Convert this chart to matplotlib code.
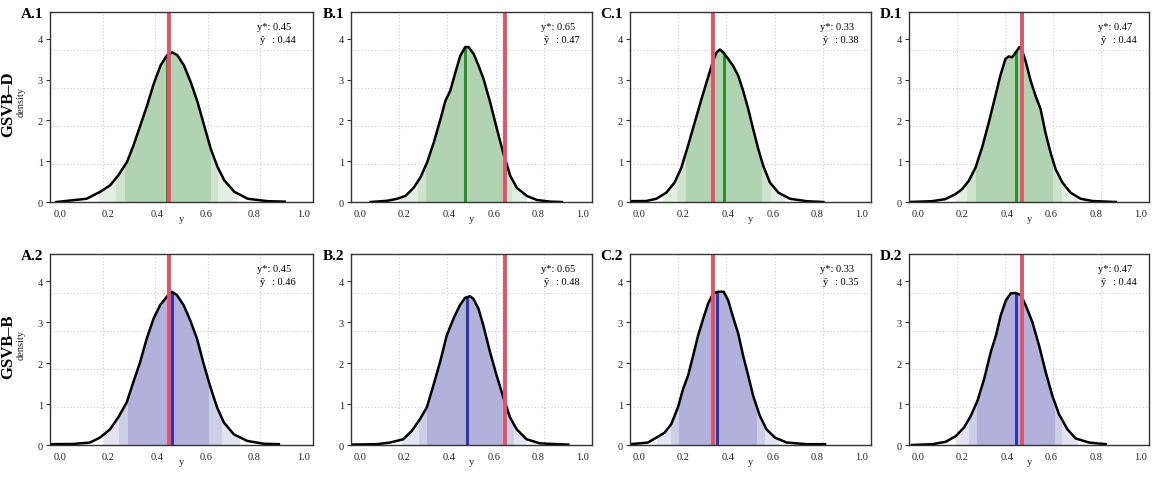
import numpy as np
import matplotlib
matplotlib.use("Agg")
import matplotlib.pyplot as plt
from matplotlib.path import Path

plt.rcParams['font.family'] = ['Liberation Serif', 'DejaVu Serif']

# panel labels and row names
col_names = ["A", "B", "C", "D"]
row_names = ["GSVB\u2013D", "GSVB\u2013B"]

# true value per column, posterior median per row/column
y_star = [0.45, 0.65, 0.33, 0.47]
y_hat = [[0.44, 0.47, 0.38, 0.44],
         [0.46, 0.48, 0.35, 0.44]]

# shaded credible bands (outer lo, mid lo, inner lo, inner hi, mid hi, outer hi)
bands = [
    [[0.16, 0.23, 0.27, 0.62, 0.65, 0.73],
     [0.18, 0.26, 0.295, 0.64, 0.68, 0.75],
     [0.11, 0.17, 0.21, 0.55, 0.59, 0.66],
     [0.17, 0.22, 0.26, 0.61, 0.65, 0.72]],
    [[0.18, 0.245, 0.28, 0.615, 0.665, 0.74],
     [0.19, 0.265, 0.30, 0.64, 0.69, 0.75],
     [0.08, 0.145, 0.18, 0.53, 0.565, 0.63],
     [0.17, 0.23, 0.265, 0.615, 0.65, 0.72]],
]

# density curves
a1_x = [-0.014, 0.11, 0.166, 0.207, 0.24, 0.276, 0.303, 0.331, 0.359, 0.386, 0.414, 0.441, 0.462,
        0.483, 0.51, 0.538, 0.566, 0.593, 0.62, 0.648, 0.676, 0.717, 0.772, 0.855, 0.924]
a1_y = [0.0, 0.08, 0.25, 0.41, 0.65, 0.98, 1.39, 1.88, 2.37, 2.9, 3.35, 3.6, 3.67,
        3.6, 3.35, 2.94, 2.45, 1.88, 1.31, 0.86, 0.53, 0.25, 0.08, 0.02, 0.01]

b1_x = [0.048, 0.122, 0.167, 0.204, 0.241, 0.271, 0.301, 0.331, 0.361, 0.383, 0.405, 0.428, 0.45, 0.472,
        0.487, 0.51, 0.532, 0.554, 0.584, 0.614, 0.644, 0.674, 0.703, 0.748, 0.793, 0.852, 0.905]
b1_y = [0.0, 0.03, 0.08, 0.15, 0.35, 0.6, 0.97, 1.46, 2.03, 2.48, 2.73, 3.18, 3.59, 3.8,
        3.8, 3.63, 3.34, 3.02, 2.44, 1.79, 1.17, 0.64, 0.35, 0.15, 0.05, 0.01, 0.0]

c1_x = [-0.042, 0.033, 0.078, 0.123, 0.16, 0.19, 0.22, 0.25, 0.28, 0.31, 0.333, 0.348, 0.363, 0.378,
        0.4, 0.422, 0.445, 0.467, 0.49, 0.512, 0.535, 0.557, 0.587, 0.625, 0.677, 0.752, 0.827]
c1_y = [0.02, 0.025, 0.08, 0.23, 0.48, 0.84, 1.38, 1.95, 2.52, 3.06, 3.47, 3.67, 3.74, 3.67,
        3.51, 3.34, 3.1, 2.73, 2.28, 1.79, 1.3, 0.89, 0.48, 0.23, 0.08, 0.02, 0.0]

d1_x = [-0.042, 0.063, 0.123, 0.168, 0.198, 0.229, 0.259, 0.289, 0.319, 0.349, 0.371, 0.394, 0.409,
        0.424, 0.439, 0.457, 0.469, 0.484, 0.507, 0.529, 0.552, 0.574, 0.597, 0.62, 0.65, 0.687,
        0.732, 0.785, 0.89]
d1_y = [0.0, 0.02, 0.07, 0.19, 0.31, 0.52, 0.84, 1.34, 1.95, 2.61, 3.1, 3.51, 3.57,
        3.55, 3.66, 3.8, 3.71, 3.47, 2.98, 2.61, 2.28, 1.7, 1.21, 0.8, 0.48, 0.23,
        0.08, 0.025, 0.0]

a2_x = [-0.037, 0.055, 0.124, 0.165, 0.206, 0.24, 0.275, 0.302, 0.33, 0.357, 0.385, 0.412, 0.44,
        0.46, 0.481, 0.509, 0.536, 0.564, 0.591, 0.619, 0.646, 0.674, 0.715, 0.77, 0.838, 0.9]
a2_y = [0.02, 0.025, 0.06, 0.18, 0.38, 0.67, 1.04, 1.53, 2.02, 2.59, 3.08, 3.41, 3.62,
        3.74, 3.66, 3.41, 3.04, 2.59, 1.98, 1.41, 0.92, 0.55, 0.26, 0.1, 0.03, 0.02]

b2_x = [-0.04, 0.075, 0.135, 0.194, 0.232, 0.269, 0.3, 0.329, 0.359, 0.389, 0.419, 0.448, 0.471,
        0.493, 0.508, 0.531, 0.553, 0.583, 0.613, 0.643, 0.673, 0.703, 0.747, 0.807, 0.882, 0.934]
b2_y = [0.01, 0.02, 0.06, 0.14, 0.34, 0.63, 0.92, 1.45, 2.02, 2.67, 3.08, 3.41, 3.59,
        3.63, 3.57, 3.33, 2.92, 2.27, 1.69, 1.16, 0.67, 0.38, 0.14, 0.04, 0.02, 0.01]

c2_x = [-0.042, 0.003, 0.04, 0.078, 0.115, 0.145, 0.175, 0.198, 0.22, 0.243, 0.265, 0.288, 0.31,
        0.333, 0.355, 0.38, 0.4, 0.422, 0.445, 0.467, 0.49, 0.512, 0.542, 0.572, 0.61, 0.662,
        0.752, 0.834]
c2_y = [0.02, 0.04, 0.06, 0.18, 0.3, 0.51, 0.92, 1.37, 1.69, 2.18, 2.67, 3.08, 3.45,
        3.7, 3.74, 3.74, 3.53, 3.12, 2.72, 2.18, 1.69, 1.2, 0.71, 0.38, 0.18, 0.06,
        0.02, 0.02]

d2_x = [-0.027, 0.066, 0.126, 0.171, 0.208, 0.238, 0.268, 0.298, 0.328, 0.351, 0.373, 0.396, 0.418,
        0.44, 0.463, 0.485, 0.515, 0.545, 0.575, 0.605, 0.635, 0.673, 0.71, 0.77, 0.845]
d2_y = [0.0, 0.02, 0.08, 0.22, 0.43, 0.71, 1.08, 1.61, 2.27, 2.67, 3.17, 3.53, 3.7,
        3.71, 3.66, 3.41, 3.0, 2.43, 1.78, 1.2, 0.75, 0.38, 0.16, 0.06, 0.02]

curves = [[(a1_x, a1_y), (b1_x, b1_y), (c1_x, c1_y), (d1_x, d1_y)],
          [(a2_x, a2_y), (b2_x, b2_y), (c2_x, c2_y), (d2_x, d2_y)]]

x_ticks = [0.0, 0.2, 0.4, 0.6, 0.8, 1.0]
y_ticks = [0, 1, 2, 3, 4]

fill_cols = [["#e3efe3", "#cfe3cf", "#b2d3b2"],
             ["#e3e3f1", "#cecee6", "#b1b1dc"]]
line_cols = ["#2e8b2e", "#3434aa"]
red = "#df536b"
box_col = "#333333"

fig = plt.figure(figsize=(11.63, 4.85), dpi=100)

col_left = [0.0430, 0.3018, 0.5417, 0.7816]
col_width = [0.2261, 0.2072, 0.2072, 0.2064]
row_bottom = [0.5814, 0.0804]
row_height = [0.3918, 0.3938]

for r in range(2):
    for c in range(4):
        ax = fig.add_axes([col_left[c], row_bottom[r], col_width[c], row_height[r]])
        ax.set_xlim(-0.04, 1.04)
        ax.set_ylim(0, 4.66)

        # dotted grid (drawn on its own spacing, as in the source)
        for g in [0.2, 0.4, 0.6, 0.8]:
            ax.axvline(g * 1.08 - 0.04, color="#cccccc", lw=0.8, ls=(0, (1, 2)), zorder=0.5)
        for g in [1, 2, 3, 4]:
            ax.axhline(g * 0.93, color="#cccccc", lw=0.8, ls=(0, (1, 2)), zorder=0.5)

        x, y = curves[r][c]
        verts = [(x[0], 0)] + list(zip(x, y)) + [(x[-1], 0), (x[0], 0)]
        clip = Path(verts, closed=True)

        b = bands[r][c]
        spans = [(b[0], b[5]), (b[1], b[4]), (b[2], b[3])]
        for k, (lo, hi) in enumerate(spans):
            sp = ax.axvspan(lo, hi, color=fill_cols[r][k], lw=0, zorder=1 + k * 0.1)
            sp.set_clip_path(clip, ax.transData)

        med = ax.axvline(y_hat[r][c], color=line_cols[r], lw=2.2, zorder=2)
        med.set_clip_path(clip, ax.transData)

        ax.plot(x, y, color="black", lw=1.8, zorder=3, solid_joinstyle="round")
        ax.axvline(y_star[c], color=red, lw=2.8, zorder=4)

        for s in ax.spines.values():
            s.set_color(box_col)
            s.set_linewidth(1.0)
            s.set_zorder(5)

        ax.set_xticks(x_ticks)
        ax.set_xticklabels(["%.1f" % v for v in x_ticks])
        ax.set_yticks(y_ticks)
        ax.set_yticklabels([str(v) for v in y_ticks])
        ax.tick_params(axis="x", length=0, pad=5, labelsize=7.5, colors="#222222")
        ax.tick_params(axis="y", length=3, pad=2, labelsize=7.5, colors="#222222",
                       direction="out", color=box_col)
        ax.set_xlabel("y", fontsize=7.5, labelpad=-3, color="#222222")

        ax.annotate(col_names[c] + "." + str(r + 1), xy=(0, 1), xycoords="axes fraction",
                    xytext=(-5, -1), textcoords="offset points", ha="right", va="center",
                    fontsize=11, fontweight="bold")

        # y* / y-hat annotation (x in data, y in axes fraction)
        tr = ax.get_xaxis_transform()
        ax.text(0.81, 0.925, "y*: %.2f" % y_star[c], fontsize=7.5, ha="left", va="center",
                transform=tr)
        ax.annotate("\u0177", xy=(0.81, 0.855), xycoords=tr,
                    xytext=(2, 0), textcoords="offset points", fontsize=7.5, ha="left", va="center")
        ax.annotate(": %.2f" % y_hat[r][c], xy=(0.81, 0.855), xycoords=tr,
                    xytext=(11, 0), textcoords="offset points", fontsize=7.5, ha="left", va="center")

        if c == 0:
            ax.text(-0.158, 0.52, row_names[r], transform=ax.transAxes, rotation=90,
                    ha="center", va="center", fontsize=12, fontweight="bold")
            ax.text(-0.108, 0.53, "density", transform=ax.transAxes, rotation=90,
                    ha="center", va="center", fontsize=7.5, color="#222222")

fig.savefig("out.png", dpi=100)
